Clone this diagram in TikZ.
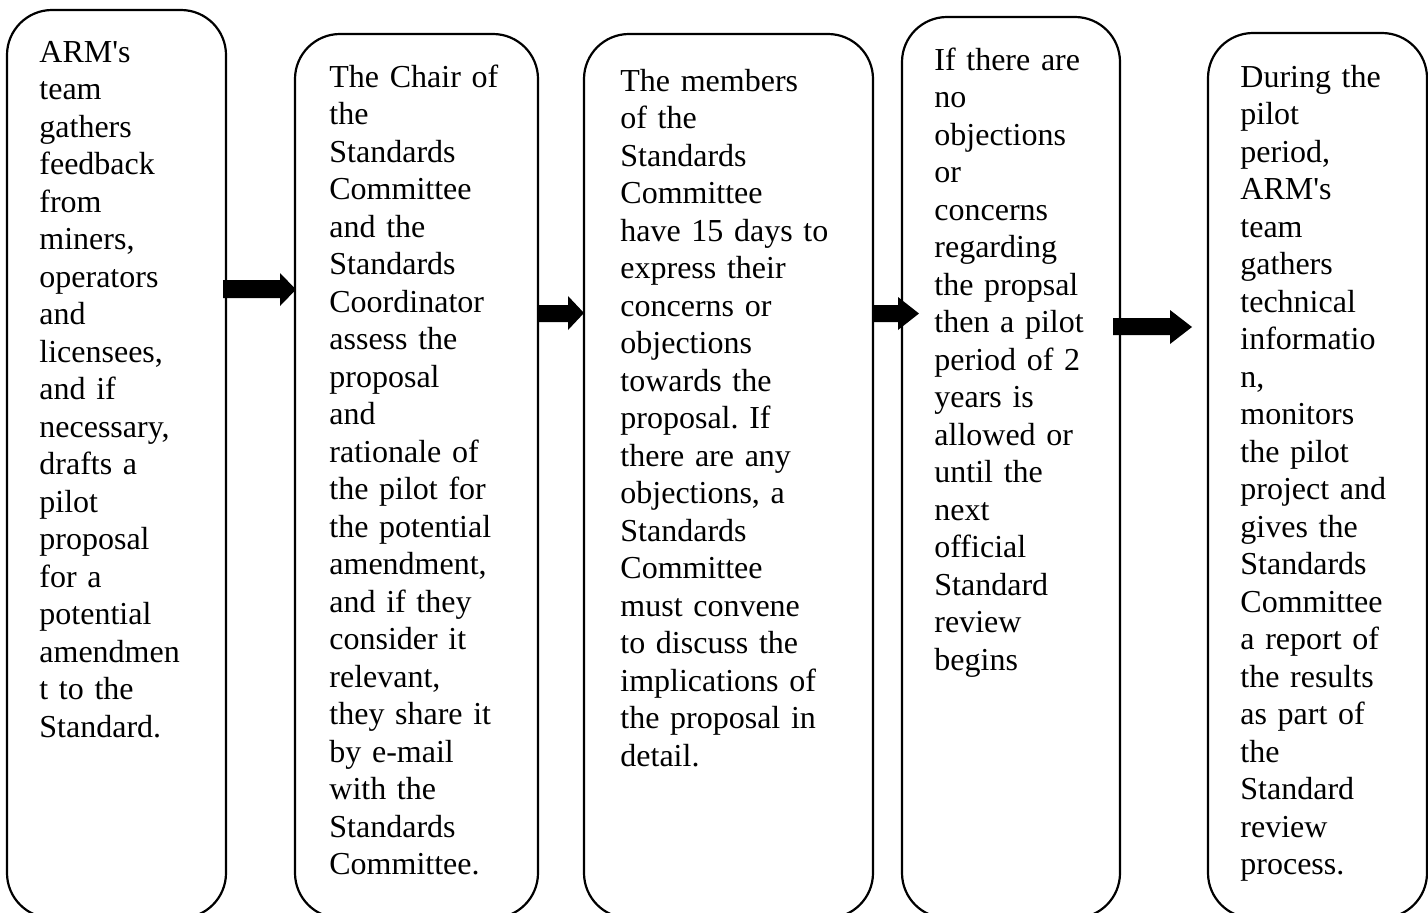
\documentclass[tikz,border=0pt]{standalone}
\usepackage{fontspec}
\setmainfont{Liberation Serif}
\frenchspacing
\newcommand{\apos}{\textquotesingle}
\begin{document}
\begin{tikzpicture}[x=0.5pt,y=-0.5pt,
  stepbox/.style={draw=black,line width=1.1pt,rounded corners=22.5pt},
  steptext/.style={anchor=north west,inner sep=0pt,text width=120pt,align=left,
    font=\fontsize{16pt}{18.75pt}\selectfont\frenchspacing},
  blockarrow/.style={fill=black,draw=none}]
\useasboundingbox (0,0) rectangle (1428,912);
% boxes
\draw[stepbox] (7,10) rectangle (226,918);
\draw[stepbox] (295,34) rectangle (538,918);
\draw[stepbox] (584,34) rectangle (873,918);
\draw[stepbox] (902,17) rectangle (1120,918);
\draw[stepbox] (1208,33) rectangle (1427,918);
% texts (north = first baseline - 26.25px)
\node[steptext] (t1) at (39,35.75) {\strut ARM\apos s\\team\\gathers\\feedback\\from\\miners,\\operators\\and\\licensees,\\and if\\necessary,\\drafts a\\pilot\\proposal\\for a\\potential\\amendmen\\t to the\\Standard.};
\node[steptext] (t2) at (329,60.75) {\strut The Chair of\\the\\Standards\\Committee\\and the\\Standards\\Coordinator\\assess the\\proposal\\and\\rationale of\\the pilot for\\the potential\\amendment,\\and if they\\consider it\\relevant,\\they share it\\by e-mail\\with the\\Standards\\Committee.};
\node[steptext] (t3) at (620,64.75) {\strut The members\\of the\\Standards\\Committee\\have 15 days to\\express their\\concerns or\\objections\\towards the\\proposal. If\\there are any\\objections, a\\Standards\\Committee\\must convene\\to discuss the\\implications of\\the proposal in\\detail.};
\node[steptext] (t4) at (934,43.75) {\strut If there are\\no\\objections\\or\\concerns\\regarding\\the propsal\\then a pilot\\period of 2\\years is\\allowed or\\until the\\next\\official\\Standard\\review\\begins};
\node[steptext] (t5) at (1240,60.75) {\strut During the\\pilot\\period,\\ARM\apos s\\team\\gathers\\technical\\informatio\\n,\\monitors\\the pilot\\project and\\gives the\\Standards\\Committee\\a report of\\the results\\as part of\\the\\Standard\\review\\process.};
% block arrows
\fill[blockarrow] (223,280) -- (280,280) -- (280,273) -- (296,289.5) -- (280,306) -- (280,298) -- (223,298) -- cycle;
\fill[blockarrow] (538,305) -- (568,305) -- (568,296) -- (584,313) -- (568,330) -- (568,322) -- (538,322) -- cycle;
\fill[blockarrow] (872,305) -- (898,305) -- (898,297) -- (919,313.5) -- (898,330) -- (898,322) -- (872,322) -- cycle;
\fill[blockarrow] (1113,318) -- (1170,318) -- (1170,310) -- (1192,327) -- (1170,344) -- (1170,335) -- (1113,335) -- cycle;
\end{tikzpicture}
\end{document}
